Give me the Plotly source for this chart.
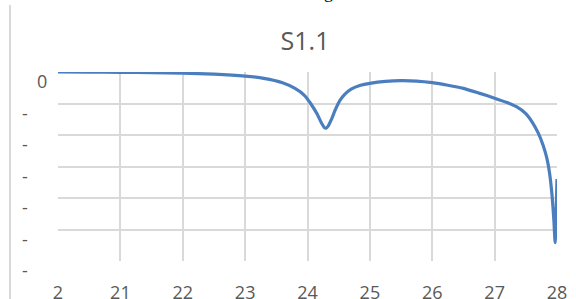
import plotly.graph_objects as go

# S1.1 trace (frequency index vs dB)
freq = [20.0, 20.5, 21.0, 21.5, 22.0, 22.5, 23.0, 23.3, 23.6, 23.8, 23.95, 24.05, 24.15,
        24.22, 24.27, 24.30, 24.33, 24.38, 24.45, 24.52, 24.6, 24.7, 24.85, 25.0, 25.25,
        25.5, 25.75, 26.0, 26.25, 26.5, 26.75, 27.0, 27.2, 27.35, 27.5, 27.6, 27.7, 27.78,
        27.84, 27.88, 27.92, 27.95, 27.97, 28.0]
s11 = [0.0, -0.02, -0.05, -0.1, -0.2, -0.35, -0.65, -1.0, -1.7, -2.6, -3.7, -5.0, -6.6,
       -8.0, -8.8, -8.9, -8.6, -7.6, -5.9, -4.5, -3.5, -2.7, -2.1, -1.8, -1.5,
       -1.38, -1.45, -1.7, -2.1, -2.6, -3.35, -4.15, -4.85, -5.5, -6.6, -7.9, -9.7, -11.7,
       -13.8, -16.0, -19.5, -23.5, -27.1, -17.0]

x_tickvals = [20, 21, 22, 23, 24, 25, 26, 27, 28]
x_ticktext = ["2", "21", "22", "23", "24", "25", "26", "27", "28"]
y_tickvals = [0, -5, -10, -15, -20, -25, -30]
y_ticktext = ["0", "-", "-", "-", "-", "-", "-"]

W, H = 576, 299
L, R, T, B = 58, 19, 72, 38
pw, ph = W - L - R, H - T - B

grey = "#595959"
font = "Open Sans"

fig = go.Figure()
fig.add_trace(go.Scatter(x=freq, y=s11, mode="lines",
                         line=dict(color="#4A7EBF", width=3.2, shape="spline", smoothing=0.5),
                         hoverinfo="skip", showlegend=False))

fig.update_layout(
    width=W, height=H,
    margin=dict(l=L, r=R, t=T, b=B, autoexpand=False),
    paper_bgcolor="white", plot_bgcolor="white",
    title=dict(text="S1.1", x=305 / W, xanchor="center", y=1 - 41 / H, yanchor="middle",
               font=dict(family=font, size=25, color=grey)),
    xaxis=dict(range=[20, 28], tickvals=x_tickvals, ticktext=x_ticktext, automargin=False,
               showgrid=True, gridcolor="#D9D9D9", gridwidth=1.5, zeroline=False,
               showline=False, ticks="", ticklabelstandoff=19,
               tickfont=dict(family=font, size=18, color=grey)),
    yaxis=dict(range=[-30, 0], tickvals=y_tickvals, showgrid=True, gridcolor="#D9D9D9",
               automargin=False, gridwidth=1.5, zeroline=False, showline=False,
               showticklabels=False, ticks=""),
)

# y tick labels (offset below their gridlines as in the reference)
for v, t in zip(y_tickvals, y_ticktext):
    px = 42 if t == "0" else 25
    fig.add_annotation(x=(px - L) / pw, xref="paper", y=v, yref="y", yshift=-9,
                       text=t, showarrow=False, xanchor="center", yanchor="middle",
                       font=dict(family=font, size=18, color=grey))

# left frame edge of the chart area
fig.add_shape(type="line", xref="paper", yref="paper",
              x0=(10 - L) / pw, x1=(10 - L) / pw, y0=(H - B - 5) / ph, y1=-B / ph - 0.05,
              line=dict(color="#D9D9D9", width=2))

# clipped text from above
fig.add_annotation(x=(328 - L) / pw, xref="paper", y=(H - B + 8) / ph, yref="paper",
                   text="g", showarrow=False, xanchor="center", yanchor="middle",
                   font=dict(family="Liberation Serif", size=18, color="black"))

fig.write_html("out.html", config={"displayModeBar": False},
               post_script="document.body.style.margin='0';document.body.style.overflow='hidden';")
